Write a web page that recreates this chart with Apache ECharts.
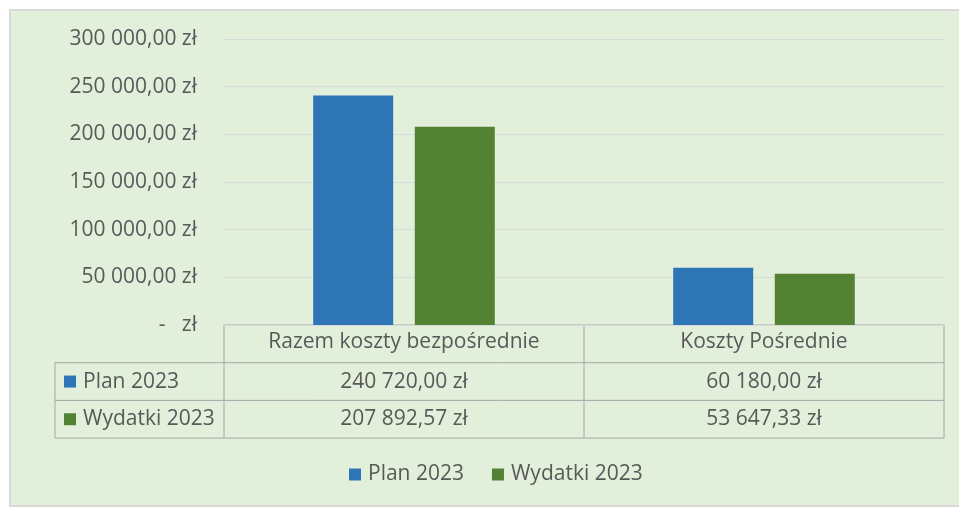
<!doctype html>
<html>
<head>
<meta charset="utf-8">
<title>Plan i wydatki 2023</title>
<script src="https://cdn.jsdelivr.net/npm/echarts@6/dist/echarts.min.js"></script>
<style>
  html, body { margin: 0; padding: 0; background: #fff; }
  #main { width: 959px; height: 509px; }
</style>
</head>
<body>
<div id="main"></div>
<script>
var categories = ['Razem koszty bezpośrednie', 'Koszty Pośrednie'];
var seriesNames = ['Plan 2023', 'Wydatki 2023'];
var plan2023 = [240720.00, 60180.00];
var wydatki2023 = [207892.57, 53647.33];
var colors = ['#2E75B6', '#548235'];

var FONT = 'Open Sans';
var FS = 21;
var TXT = '#595959';

function zl(v) {
  if (v === 0) return '-   zł';
  var parts = v.toFixed(2).split('.');
  var int = parts[0].replace(/\B(?=(\d{3})+(?!\d))/g, ' ');
  return int + ',' + parts[1] + ' zł';
}

var chart = echarts.init(document.getElementById('main'));

// ramka tabeli danych
var L = 224, R = 944, T = 325, rowH = 37.7, legL = 55;
function tableGraphic() {
  var g = [];
  var lineStyle = { stroke: '#A6A6A6', lineWidth: 1 };
  var mid = (L + R) / 2;
  // poziome
  g.push({ type: 'line', shape: { x1: L, y1: T, x2: R, y2: T }, style: lineStyle });
  for (var r = 1; r <= 3; r++) {
    g.push({ type: 'line', shape: { x1: legL, y1: T + rowH * r, x2: R, y2: T + rowH * r }, style: lineStyle });
  }
  // pionowe
  g.push({ type: 'line', shape: { x1: L, y1: T, x2: L, y2: T + rowH * 3 }, style: lineStyle });
  g.push({ type: 'line', shape: { x1: mid, y1: T, x2: mid, y2: T + rowH * 3 }, style: lineStyle });
  g.push({ type: 'line', shape: { x1: R, y1: T, x2: R, y2: T + rowH * 3 }, style: lineStyle });
  g.push({ type: 'line', shape: { x1: legL, y1: T + rowH, x2: legL, y2: T + rowH * 3 }, style: lineStyle });

  var rows = [plan2023, wydatki2023];
  var colW = (R - L) / categories.length;
  for (var i = 0; i < rows.length; i++) {
    var cy = T + rowH * (i + 1.5);
    g.push({ type: 'rect', shape: { x: 64, y: cy - 6, width: 12, height: 12 }, style: { fill: colors[i] } });
    g.push({ type: 'text', x: 83, y: cy, style: { text: seriesNames[i], font: FS + 'px "' + FONT + '"', fill: TXT, verticalAlign: 'middle' } });
    for (var j = 0; j < categories.length; j++) {
      g.push({ type: 'text', x: L + colW * (j + 0.5), y: cy, style: { text: zl(rows[i][j]), font: FS + 'px "' + FONT + '"', fill: TXT, align: 'center', verticalAlign: 'middle' } });
    }
  }
  return g;
}

var option = {
  backgroundColor: '#fff',
  color: colors,
  graphic: [
    { type: 'rect', z: -10, shape: { x: 10, y: 10, width: 960, height: 496 }, style: { fill: '#E2EFDA', stroke: '#D9D9D9', lineWidth: 2 } }
  ].concat(tableGraphic()),
  legend: {
    data: seriesNames,
    bottom: 24,
    left: 349,
    padding: 0,
    itemWidth: 12,
    itemHeight: 12,
    itemGap: 28,
    icon: 'rect',
    textStyle: { fontFamily: FONT, fontSize: FS, color: TXT, padding: [0, 0, 0, 2] }
  },
  grid: { left: 224, right: 15, top: 39, bottom: 184 },
  xAxis: {
    type: 'category',
    data: categories,
    axisLine: { show: false },
    axisTick: { show: false },
    axisLabel: { margin: 7, fontFamily: FONT, fontSize: FS, color: TXT, verticalAlign: 'top' }
  },
  yAxis: {
    type: 'value',
    min: 0,
    max: 300000,
    interval: 50000,
    axisLine: { show: false },
    axisTick: { show: false },
    splitLine: { lineStyle: { color: '#D9D9D9' } },
    axisLabel: { margin: 27, fontFamily: FONT, fontSize: FS, color: TXT, formatter: zl }
  },
  series: [
    { name: seriesNames[0], type: 'bar', data: plan2023, barWidth: 80, barGap: '27%' },
    { name: seriesNames[1], type: 'bar', data: wydatki2023, barWidth: 80, barGap: '27%' }
  ]
};
chart.setOption(option);
</script>
</body>
</html>
